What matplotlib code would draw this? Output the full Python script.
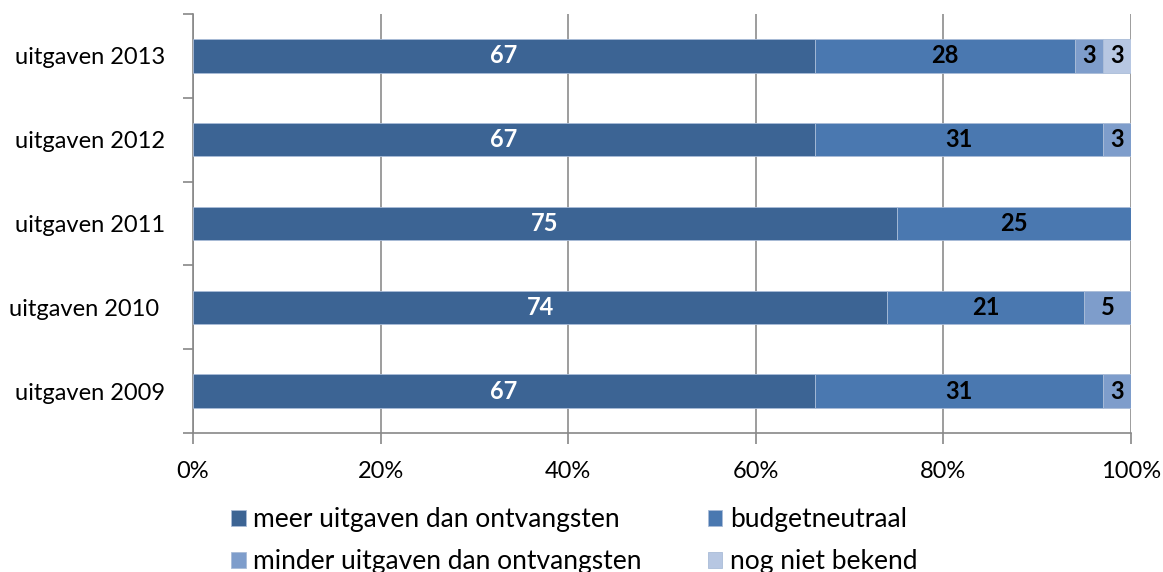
import numpy as np
import matplotlib
matplotlib.use("Agg")
from matplotlib import pyplot as plt

plt.rcParams['font.family'] = ['Lato', 'DejaVu Sans']

categories = ['uitgaven 2009', 'uitgaven 2010 ', 'uitgaven 2011', 'uitgaven 2012', 'uitgaven 2013']
series = ['meer uitgaven dan ontvangsten', 'budgetneutraal',
          'minder uitgaven dan ontvangsten', 'nog niet bekend']
meer = [67, 74, 75, 67, 67]
neutraal = [31, 21, 25, 31, 28]
minder = [3, 5, 0, 3, 3]
onbekend = [0, 0, 0, 0, 3]
colors = ['#3c6494', '#4a78b0', '#7e9dcb', '#b7c7e2']
text_colors = ['white', 'black', 'black', 'black']

values = np.array([meer, neutraal, minder, onbekend], dtype=float)
totals = values.sum(axis=0)
shares = values / totals * 100

fs = 17
fig = plt.figure(figsize=(11.63, 5.72), dpi=100)
ax = fig.add_axes([193 / 1163, 1 - 433 / 572, 938 / 1163, 419 / 572])

y = np.arange(len(categories))
left = np.zeros(len(categories))
handles = []
for i in range(len(series)):
    bars = ax.barh(y, shares[i], left=left, height=0.4, color=colors[i],
                   edgecolor='#a9bcd8', linewidth=0.6, label=series[i], zorder=3)
    handles.append(bars)
    for j in range(len(categories)):
        if values[i, j] > 0:
            ax.text(left[j] + shares[i, j] / 2, y[j], '%d' % values[i, j],
                    ha='center', va='center', color=text_colors[i],
                    fontsize=fs, fontweight='bold', zorder=4)
    left += shares[i]

ax.set_xlim(0, 100)
ax.set_ylim(-0.5, len(categories) - 0.5)
ax.set_xticks(np.arange(0, 101, 20))
ax.set_xticklabels(['%d%%' % v for v in range(0, 101, 20)], fontsize=fs)
ax.set_yticks(y)
ax.set_yticklabels(categories, fontsize=fs)
ax.set_yticks(np.arange(-0.5, len(categories), 1), minor=True)
ax.tick_params(axis='y', which='major', length=0, pad=20)
ax.tick_params(axis='y', which='minor', length=7, color='#888888', width=1.2)
ax.tick_params(axis='x', length=8, color='#888888', width=1.2, pad=12)
ax.xaxis.grid(True, color='#8c8c8c', linewidth=1.2, zorder=0)
ax.set_axisbelow(True)
for s in ['top', 'right']:
    ax.spines[s].set_visible(False)
for s in ['left', 'bottom']:
    ax.spines[s].set_color('#888888')
    ax.spines[s].set_linewidth(1.2)

fig.legend(handles=[handles[0], handles[2], handles[1], handles[3]],
           labels=[series[0], series[2], series[1], series[3]],
           ncol=2, loc='upper left', bbox_to_anchor=(231 / 1163, 1 - 507 / 572),
           frameon=False, fontsize=19, handlelength=0.55, handleheight=0.55,
           handletextpad=0.3, columnspacing=2.5, labelspacing=0.65,
           borderpad=0, borderaxespad=0)

plt.savefig('out.png', dpi=100)
